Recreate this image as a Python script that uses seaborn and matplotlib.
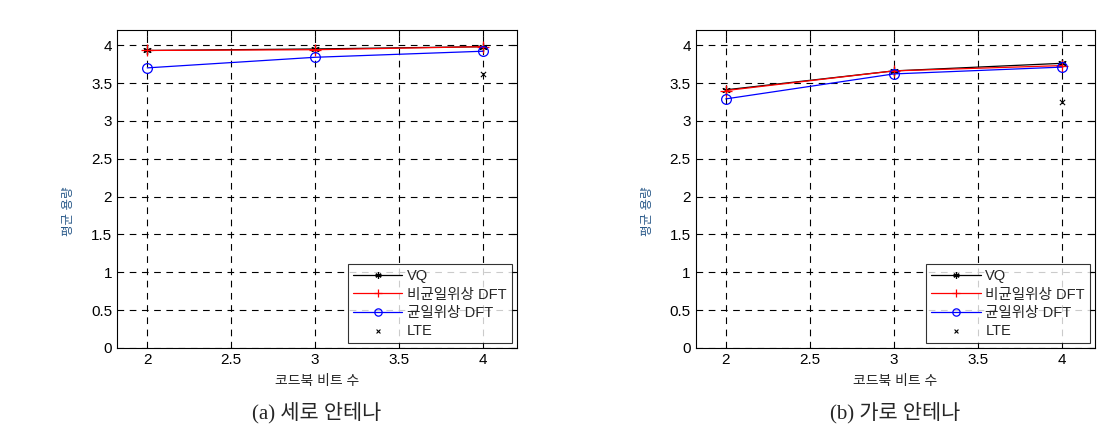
import pandas as pd
import matplotlib
matplotlib.use("Agg")
import matplotlib.pyplot as plt
import seaborn as sns

bits = [2, 3, 4]
series_names = ["VQ", "비균일위상 DFT", "균일위상 DFT"]

# (a) 세로 안테나
vert_vq = [3.93, 3.95, 3.98]
vert_nonuni = [3.93, 3.94, 3.98]
vert_uni = [3.70, 3.84, 3.92]
vert_lte_bits = [4]
vert_lte = [3.62]

# (b) 가로 안테나
horz_vq = [3.41, 3.66, 3.76]
horz_nonuni = [3.40, 3.66, 3.73]
horz_uni = [3.29, 3.62, 3.71]
horz_lte_bits = [4]
horz_lte = [3.25]

xticks = [2, 2.5, 3, 3.5, 4]
yticks = [0, 0.5, 1, 1.5, 2, 2.5, 3, 3.5, 4]

sns.set_style("white")
plt.rcParams['font.family'] = ['Liberation Sans', 'Noto Sans CJK KR', 'DejaVu Sans']
plt.rcParams['axes.unicode_minus'] = False

colors = {"VQ": "black", "비균일위상 DFT": "red", "균일위상 DFT": "blue"}
markers = {"VQ": (6, 2, 0), "비균일위상 DFT": "+", "균일위상 DFT": "o"}
msizes = {"VQ": 6, "비균일위상 DFT": 8, "균일위상 DFT": 7}


def draw(ax, vq, nonuni, uni, lte_x, lte_y, caption):
    df = pd.DataFrame({
        "bits": bits * 3,
        "value": vq + nonuni + uni,
        "method": [n for n in series_names for _ in bits],
    })
    for name in series_names:
        sub = df[df["method"] == name]
        sns.lineplot(data=sub, x="bits", y="value", ax=ax, color=colors[name],
                     marker=markers[name], markersize=msizes[name],
                     markerfacecolor="none", markeredgecolor=colors[name],
                     markeredgewidth=0.9, linewidth=0.9, label=name)
    lte_df = pd.DataFrame({"bits": lte_x, "value": lte_y})
    sns.scatterplot(data=lte_df, x="bits", y="value", ax=ax, marker="x",
                    color="black", s=14, linewidth=0.8, label="LTE")

    ax.set_xlim(1.82, 4.2)
    ax.set_ylim(0, 4.2)
    ax.set_xticks(xticks)
    ax.set_xticklabels([f"{t:g}" for t in xticks])
    ax.set_yticks(yticks)
    ax.set_yticklabels([f"{t:g}" for t in yticks])
    ax.tick_params(direction="in", length=4, labelsize=11, top=True, right=True,
                   colors="black")
    ax.grid(True, color="black", linestyle=(0, (6, 5)), linewidth=0.8)
    for sp in ax.spines.values():
        sp.set_color("black")
        sp.set_linewidth(0.8)
    ax.set_xlabel("코드북 비트 수", fontsize=10, labelpad=5)
    ax.set_ylabel("평균 용량", fontsize=9, color="#2a5a8a")
    ax.yaxis.set_label_coords(-0.105, 0.43)
    leg = ax.legend(loc="lower right", fontsize=10.5, frameon=True, fancybox=False,
                    borderpad=0.35, labelspacing=0.28, handlelength=3.4,
                    handletextpad=0.3, borderaxespad=0.35, markerscale=0.75)
    leg.get_frame().set_edgecolor("black")
    leg.get_frame().set_linewidth(0.8)
    ax.text(0.5, -0.205, caption, transform=ax.transAxes, ha="center", va="center",
            fontsize=15, family=['Liberation Serif', 'Noto Sans CJK KR', 'DejaVu Sans'])


fig = plt.figure(figsize=(11.04, 4.29), dpi=100)
ax1 = fig.add_axes([0.106, 0.189, 0.362, 0.741])
ax2 = fig.add_axes([0.630, 0.189, 0.362, 0.741])
draw(ax1, vert_vq, vert_nonuni, vert_uni, vert_lte_bits, vert_lte, "(a) 세로 안테나")
draw(ax2, horz_vq, horz_nonuni, horz_uni, horz_lte_bits, horz_lte, "(b) 가로 안테나")

fig.savefig("out.png", dpi=100)
